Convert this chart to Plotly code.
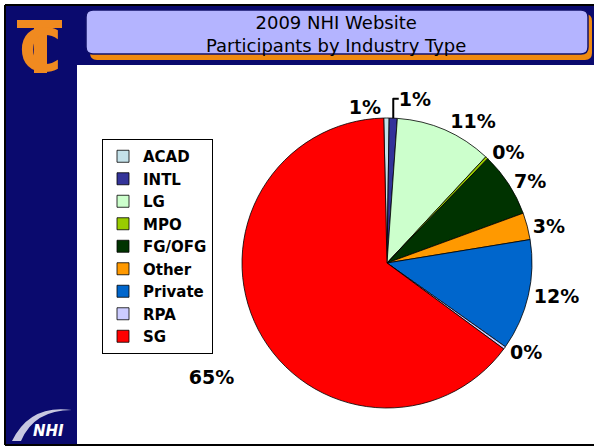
import plotly.graph_objects as go

W, H = 594, 447

categories = ["ACAD", "INTL", "LG", "MPO", "FG/OFG", "Other", "Private", "RPA", "SG"]
shares = [0.6, 0.9, 10.8, 0.3, 7.2, 3.0, 12.4, 0.3, 64.6]
colors = ["#C4E2EA", "#333399", "#CCFFCC", "#99CC00", "#003300",
          "#FF9900", "#0066CC", "#CCCCFF", "#FF0000"]
title_lines = ["2009 NHI Website", "Participants by Industry Type"]


def px(x):
    return x / W


def py(y):
    return 1 - y / H


NAVY = "#0A0A6E"
ORANGE = "#F08A20"

shapes = []
# frame lines (top, left, bottom)
for (x0, y0, x1, y1) in [(5, 5, W, 5), (5, 5, 5, 445), (5, 445, W, 445)]:
    shapes.append(dict(type="line", xref="paper", yref="paper", x0=px(x0), x1=px(x1), y0=py(y0), y1=py(y1),
                       line=dict(color="black", width=2), layer="below"))
# navy top bar
shapes.append(dict(type="rect", xref="paper", yref="paper", x0=px(6), x1=px(W), y0=py(6), y1=py(65),
                   line=dict(width=0), fillcolor=NAVY, layer="below"))
# navy left bar
shapes.append(dict(type="rect", xref="paper", yref="paper", x0=px(6), x1=px(77), y0=py(6), y1=py(444),
                   line=dict(width=0), fillcolor=NAVY, layer="below"))


def rrect(x0, y0, x1, y1, r):
    X0, X1 = px(x0), px(x1)
    rx, ry = r / W, r / H
    Y0, Y1 = py(y0), py(y1)
    return (f"M {X0+rx},{Y0} L {X1-rx},{Y0} Q {X1},{Y0} {X1},{Y0-ry} "
            f"L {X1},{Y1+ry} Q {X1},{Y1} {X1-rx},{Y1} L {X0+rx},{Y1} "
            f"Q {X0},{Y1} {X0},{Y1+ry} L {X0},{Y0-ry} Q {X0},{Y0} {X0+rx},{Y0} Z")


# orange shadow of title box
shapes.append(dict(type="path", xref="paper", yref="paper", path=rrect(90, 14, 592, 60, 7),
                   fillcolor="#F08A10", line=dict(width=0), layer="below"))
# title box
shapes.append(dict(type="path", xref="paper", yref="paper", path=rrect(86, 10, 588, 54, 7),
                   fillcolor="#B4B4FF", line=dict(color="#10106A", width=1.5), layer="below"))
# logo T bar and stem
shapes.append(dict(type="rect", xref="paper", yref="paper", x0=px(17), x1=px(62), y0=py(20), y1=py(28),
                   line=dict(width=0), fillcolor=ORANGE, layer="below"))
shapes.append(dict(type="rect", xref="paper", yref="paper", x0=px(34), x1=px(47), y0=py(28), y1=py(73),
                   line=dict(width=0), fillcolor=ORANGE, layer="below"))
# NHI logo arc
shapes.append(dict(type="path", xref="paper", yref="paper",
                   path=f"M {px(12)},{py(441)} Q {px(30)},{py(404)} {px(72)},{py(410)} "
                        f"Q {px(34)},{py(410)} {px(21)},{py(441)} Z",
                   fillcolor="#C8C8E0", line=dict(width=0), layer="below"))

annotations = [
    dict(text="<br>".join(title_lines), x=px(336), y=py(34), xref="paper", yref="paper",
         showarrow=False, font=dict(family="DejaVu Sans", size=18, color="black"),
         xanchor="center", yanchor="middle", align="center"),
    dict(text="<b>C</b>", x=px(40), y=py(51), xref="paper", yref="paper", showarrow=False,
         font=dict(family="DejaVu Sans", size=58, color=ORANGE), xanchor="center", yanchor="middle"),
    dict(text="<b><i>NHI</i></b>", x=px(48), y=py(431), xref="paper", yref="paper", showarrow=False,
         font=dict(family="DejaVu Sans", size=15, color="white"), xanchor="center", yanchor="middle"),
]

cx, cy, r = 387, 263, 145

NB = "\u00a0"
label_templates = ["%{percent:.0%}"] * (len(categories) - 1) + [f"{NB}<br>{NB}<br>{NB}<br>%{{percent:.0%}}"]

fig = go.Figure(go.Pie(
    labels=categories,
    values=shares,
    sort=False,
    direction="clockwise",
    rotation=-1.3,
    marker=dict(colors=colors, line=dict(color="black", width=0.8)),
    texttemplate=label_templates,
    textposition="outside",
    textfont=dict(family="DejaVu Sans", size=19, color="black", weight="bold"),
    domain=dict(x=[px(cx - r), px(cx + r)], y=[py(cy + r), py(cy - r)]),
    hoverinfo="label+percent",
))

fig.update_layout(
    width=W, height=H,
    margin=dict(l=0, r=0, t=0, b=0),
    paper_bgcolor="white",
    plot_bgcolor="white",
    shapes=shapes,
    annotations=annotations,
    showlegend=True,
    legend=dict(x=px(102), y=py(139), xanchor="left", yanchor="top",
                bgcolor="white", bordercolor="black", borderwidth=1,
                font=dict(family="DejaVu Sans", size=15, color="black", weight="bold"),
                traceorder="normal"),
)

fig.write_html("out.html", config={"displayModeBar": False},
               post_script="document.body.style.margin='0px';")
